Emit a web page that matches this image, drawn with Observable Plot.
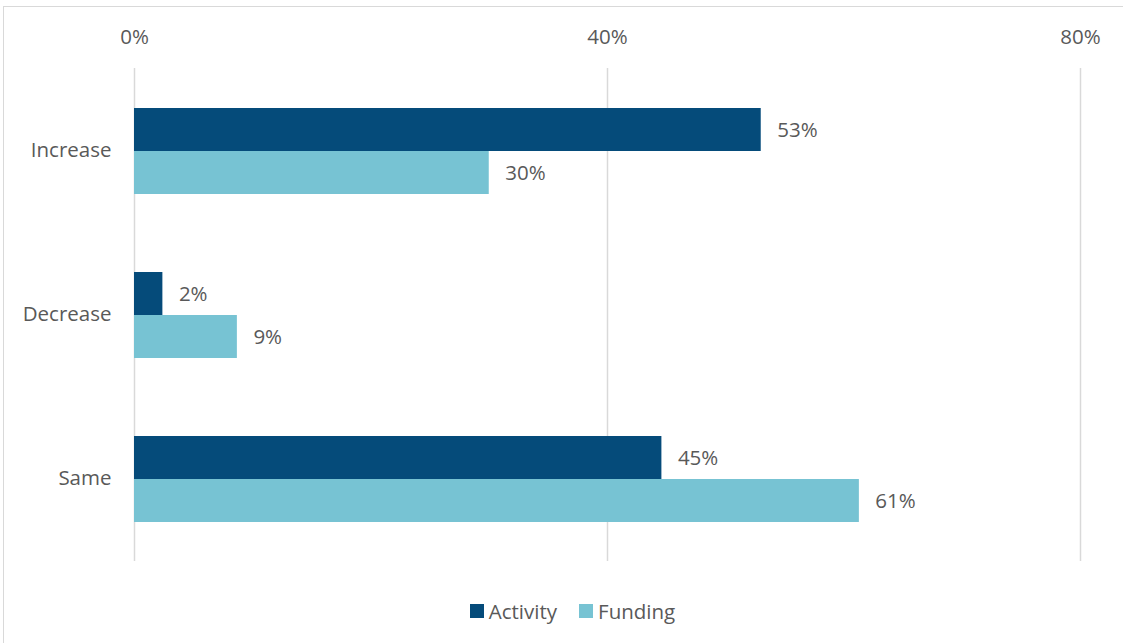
<!DOCTYPE html>
<html>
<head>
<meta charset="utf-8">
<script src="https://cdn.jsdelivr.net/npm/d3@7"></script>
<script src="https://cdn.jsdelivr.net/npm/@observablehq/plot@0.6"></script>
<style>
  html, body { margin: 0; padding: 0; background: #fff; }
  body { width: 1123px; height: 643px; position: relative; overflow: hidden; font-family: "Open Sans", Lato, sans-serif; }
  #frame { position: absolute; left: 3px; top: 6px; width: 1300px; height: 800px; border: 1.5px solid #d9d9d9; box-sizing: border-box; }
  #chart { position: absolute; left: 0; top: 0; }
  #legend { position: absolute; left: 0; top: 597px; width: 1123px; display: flex; justify-content: center; gap: 22px; font-size: 20.5px; color: #595959; padding-left: 22px; box-sizing: border-box; }
  .item { display: flex; align-items: center; gap: 5px; }
  .sw { width: 14px; height: 14px; display: inline-block; }
</style>
</head>
<body>
<div id="frame"></div>
<div id="chart"></div>
<div id="legend"></div>
<script>
const categories = ["Increase", "Decrease", "Same"];
const seriesNames = ["Activity", "Funding"];
const activity = [53, 2.4, 44.6];
const funding = [30, 8.7, 61.3];
const xTicks = [0, 40, 80];
const colors = ["#054b7a", "#77c3d3"];

const actData = categories.map((c, i) => ({category: c, value: activity[i]}));
const fundData = categories.map((c, i) => ({category: c, value: funding[i]}));
const fmt = d => Math.round(d.value) + "%";
const textColor = "#595959";
const fs = 20.5;

const chart = Plot.plot({
  width: 1123,
  height: 585,
  marginTop: 68,
  marginBottom: 24,
  marginLeft: 134,
  marginRight: 43,
  style: {fontFamily: "'Open Sans', Lato, sans-serif", fontSize: fs + "px", color: textColor, background: "transparent"},
  x: {domain: [0, 80], axis: null},
  y: {domain: categories, paddingInner: 0.477, paddingOuter: 0.2385, axis: null},
  marks: [
    Plot.gridX(xTicks, {stroke: "#d9d9d9", strokeOpacity: 1, strokeWidth: 1.5}),
    Plot.axisX({anchor: "top", ticks: xTicks, tickFormat: d => d + "%", tickSize: 0, tickPadding: 25, fill: textColor, fontSize: fs, label: null}),
    Plot.axisY({tickSize: 0, tickPadding: 23, fill: textColor, fontSize: fs, label: null, dy: -1}),
    Plot.barX(actData, {x: "value", y: "category", fill: colors[0], insetBottom: 43}),
    Plot.barX(fundData, {x: "value", y: "category", fill: colors[1], insetTop: 43}),
    Plot.text(actData, {x: "value", y: "category", text: fmt, dy: -21.5, dx: 16, textAnchor: "start", fill: textColor, fontSize: fs}),
    Plot.text(fundData, {x: "value", y: "category", text: fmt, dy: 21.5, dx: 16, textAnchor: "start", fill: textColor, fontSize: fs})
  ]
});
document.getElementById("chart").appendChild(chart);

const legend = document.getElementById("legend");
seriesNames.forEach((name, i) => {
  const item = document.createElement("span");
  item.className = "item";
  const sw = document.createElement("span");
  sw.className = "sw";
  sw.style.background = colors[i];
  item.appendChild(sw);
  item.appendChild(document.createTextNode(name));
  legend.appendChild(item);
});
</script>
</body>
</html>
